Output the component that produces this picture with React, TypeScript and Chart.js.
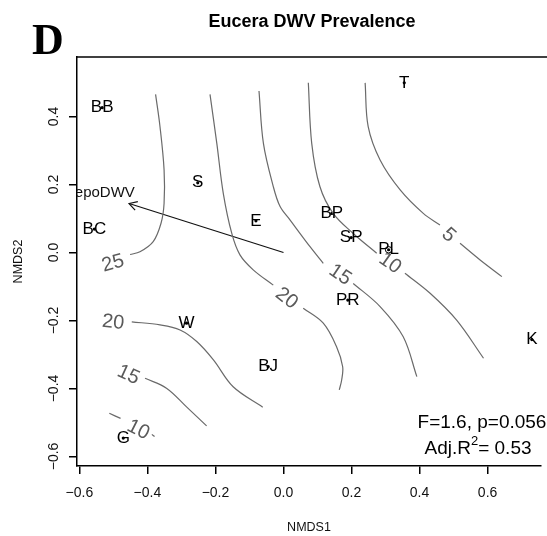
import React, { useEffect, useRef } from "react";
import { Chart, registerables } from "chart.js";
Chart.register(...registerables);

const FONT = "'Liberation Sans', Arial, Helvetica, sans-serif";
const SERIF = "'Liberation Serif', 'Times New Roman', serif";

// Sites (NMDS scores)
const siteNames = ["BB", "S", "BC", "E", "T", "BP", "SP", "PL", "W", "BJ", "G", "PR", "K"];
const siteX = [-0.533, -0.252, -0.556, -0.081, 0.355, 0.142, 0.199, 0.309, -0.285, -0.045, -0.471, 0.189, 0.73];
const siteY = [0.426, 0.205, 0.069, 0.093, 0.499, 0.115, 0.044, 0.008, -0.208, -0.336, -0.546, -0.14, -0.256];

// Axes
const xTickValues = [-0.6, -0.4, -0.2, 0, 0.2, 0.4, 0.6];
const xTickLabels = ["\u22120.6", "\u22120.4", "\u22120.2", "0.0", "0.2", "0.4", "0.6"];
const yTickValues = [-0.6, -0.4, -0.2, 0, 0.2, 0.4];
const yTickLabels = ["\u22120.6", "\u22120.4", "\u22120.2", "0.0", "0.2", "0.4"];
const xRange = [-0.607, 0.757];
const yRange = [-0.628, 0.575];

// Fitted vector
const arrowFrom = [0, 0];
const arrowTo = [-0.454, 0.144];
const vectorLabel = "epoDWV";
const vectorLabelAt = [-0.437, 0.174];

// Contours (ordisurf) - level, segment before label, label position, segment after label
const c25Before = [[-0.376, 0.465], [-0.363, 0.37], [-0.351, 0.243], [-0.351, 0.145], [-0.36, 0.086], [-0.383, 0.032], [-0.422, 0.002], [-0.451, -0.006]];
const c25At = [-0.501, -0.032];
const c25After: number[][] = [];

const c20aBefore = [[-0.216, 0.465], [-0.196, 0.321], [-0.177, 0.174], [-0.152, 0.056], [-0.128, -0.007], [-0.089, -0.051], [-0.03, -0.096]];
const c20aAt = [0.009, -0.135];
const c20aAfter = [[0.058, -0.164], [0.117, -0.208], [0.156, -0.277], [0.174, -0.336], [0.171, -0.375], [0.164, -0.404]];

const c15aBefore = [[-0.072, 0.475], [-0.059, 0.321], [-0.03, 0.194], [-0.01, 0.135], [0.019, 0.096], [0.078, 0.017], [0.117, -0.032]];
const c15aAt = [0.166, -0.066];
const c15aAfter = [[0.205, -0.091], [0.284, -0.159], [0.352, -0.248], [0.392, -0.365]];

const c10aBefore = [[0.073, 0.499], [0.083, 0.321], [0.107, 0.194], [0.146, 0.115], [0.205, 0.056], [0.274, -0.002]];
const c10aAt = [0.313, -0.032];
const c10aAfter = [[0.357, -0.061], [0.431, -0.12], [0.509, -0.199], [0.588, -0.311]];

const c5Before = [[0.24, 0.499], [0.249, 0.37], [0.284, 0.272], [0.343, 0.184], [0.411, 0.115], [0.46, 0.081]];
const c5At = [0.485, 0.051];
const c5After = [[0.519, 0.027], [0.578, -0.022], [0.642, -0.071]];

const c20bBefore: number[][] = [];
const c20bAt = [-0.501, -0.206];
const c20bAfter = [[-0.446, -0.204], [-0.363, -0.213], [-0.304, -0.228], [-0.255, -0.262], [-0.206, -0.316], [-0.148, -0.395], [-0.061, -0.455]];

const c15bBefore: number[][] = [];
const c15bAt = [-0.456, -0.36];
const c15bAfter = [[-0.407, -0.37], [-0.344, -0.399], [-0.285, -0.454], [-0.226, -0.51]];

const c10bBefore = [[-0.512, -0.473], [-0.479, -0.488]];
const c10bAt = [-0.427, -0.522];
const c10bAfter = [[-0.387, -0.535], [-0.379, -0.541]];

const statLine1 = "F=1.6, p=0.056";
const statLine2a = "Adj.R";
const statLine2b = "2";
const statLine2c = "= 0.53";

const chartTitle = "Eucera DWV Prevalence";
const panelLetter = "D";

const contours = [
  { level: "25", before: c25Before, at: c25At, after: c25After },
  { level: "20", before: c20aBefore, at: c20aAt, after: c20aAfter },
  { level: "15", before: c15aBefore, at: c15aAt, after: c15aAfter },
  { level: "10", before: c10aBefore, at: c10aAt, after: c10aAfter },
  { level: "5", before: c5Before, at: c5At, after: c5After },
  { level: "20", before: c20bBefore, at: c20bAt, after: c20bAfter },
  { level: "15", before: c15bBefore, at: c15bAt, after: c15bAfter },
  { level: "10", before: c10bBefore, at: c10bAt, after: c10bAfter },
];

const CONTOUR_COLOR = "#6a6a6a";
const CONTOUR_LABEL = "#5a5a5a";

export default function App() {
  const ref = useRef<HTMLCanvasElement>(null);

  useEffect(() => {
    const canvas = ref.current!;
    const toXY = (arr: number[][]) => arr.map(([x, y]) => ({ x, y }));

    const datasets: any[] = [];
    contours.forEach((c) => {
      [c.before, c.after].forEach((seg) => {
        if (seg.length > 1) {
          datasets.push({
            data: toXY(seg),
            showLine: true,
            borderColor: CONTOUR_COLOR,
            borderWidth: 1.2,
            pointRadius: 0,
            fill: false,
            tension: 0.35,
          });
        }
      });
    });
    datasets.push({
      data: toXY([arrowFrom, arrowTo]),
      showLine: true,
      borderColor: "#111",
      borderWidth: 1.2,
      pointRadius: 0,
      fill: false,
    });
    datasets.push({
      data: siteX.map((x, i) => ({ x, y: siteY[i] })),
      showLine: false,
      pointRadius: 1.6,
      pointBackgroundColor: "#000",
      pointBorderWidth: 0,
    });

    const annot = {
      id: "annot",
      afterDatasetsDraw(chart: any) {
        const { ctx, chartArea: ca, scales } = chart;
        const xs = scales.x, ys = scales.y;
        const px = (v: number) => xs.getPixelForValue(v);
        const py = (v: number) => ys.getPixelForValue(v);
        ctx.save();
        ctx.beginPath();
        ctx.rect(ca.left, ca.top, ca.right - ca.left, ca.bottom - ca.top);
        ctx.clip();

        // contour labels
        ctx.fillStyle = CONTOUR_LABEL;
        ctx.font = `20px ${FONT}`;
        ctx.textAlign = "center";
        ctx.textBaseline = "middle";
        contours.forEach((c) => {
          let p0: number[], p1: number[];
          if (c.before.length && c.after.length) {
            p0 = c.before[c.before.length - 1];
            p1 = c.after[0];
          } else if (c.before.length) {
            p0 = c.before[c.before.length - 2];
            p1 = c.before[c.before.length - 1];
          } else {
            p0 = c.after[0];
            p1 = c.after[1];
          }
          let a = Math.atan2(py(p1[1]) - py(p0[1]), px(p1[0]) - px(p0[0]));
          if (a > Math.PI / 2) a -= Math.PI;
          if (a < -Math.PI / 2) a += Math.PI;
          ctx.save();
          ctx.translate(px(c.at[0]), py(c.at[1]));
          ctx.rotate(a);
          ctx.fillText(c.level, 0, 0);
          ctx.restore();
        });

        // arrow head
        const tx = px(arrowTo[0]), ty = py(arrowTo[1]);
        const fx = px(arrowFrom[0]), fy = py(arrowFrom[1]);
        const ang = Math.atan2(ty - fy, tx - fx);
        const hl = 9;
        ctx.strokeStyle = "#111";
        ctx.lineWidth = 1.2;
        ctx.beginPath();
        ctx.moveTo(tx - hl * Math.cos(ang - Math.PI / 6), ty - hl * Math.sin(ang - Math.PI / 6));
        ctx.lineTo(tx, ty);
        ctx.lineTo(tx - hl * Math.cos(ang + Math.PI / 6), ty - hl * Math.sin(ang + Math.PI / 6));
        ctx.stroke();

        // vector label
        ctx.fillStyle = "#111";
        ctx.font = `15px ${FONT}`;
        ctx.textAlign = "right";
        ctx.fillText(vectorLabel, px(vectorLabelAt[0]), py(vectorLabelAt[1]));

        // site labels
        ctx.font = `17px ${FONT}`;
        ctx.textAlign = "center";
        ctx.fillStyle = "#000";
        siteNames.forEach((n, i) => {
          ctx.fillText(n, px(siteX[i]), py(siteY[i]));
        });
        // PL open circle
        const pli = siteNames.indexOf("PL");
        ctx.strokeStyle = "#000";
        ctx.lineWidth = 1;
        ctx.beginPath();
        ctx.arc(px(siteX[pli]), py(siteY[pli]), 3.2, 0, Math.PI * 2);
        ctx.stroke();
        ctx.restore();

        // statistics text
        ctx.save();
        ctx.fillStyle = "#000";
        ctx.textBaseline = "alphabetic";
        ctx.font = `19px ${FONT}`;
        ctx.textAlign = "center";
        ctx.fillText(statLine1, ca.right - 59, ca.bottom - 38);
        const wA = ctx.measureText(statLine2a).width;
        ctx.font = `13px ${FONT}`;
        const wB = ctx.measureText(statLine2b).width;
        ctx.font = `19px ${FONT}`;
        const wC = ctx.measureText(statLine2c).width;
        const total = wA + wB + wC;
        let sx = ca.right - 63 - total / 2;
        const by = ca.bottom - 12;
        ctx.textAlign = "left";
        ctx.fillText(statLine2a, sx, by);
        sx += wA;
        ctx.font = `13px ${FONT}`;
        ctx.fillText(statLine2b, sx, by - 9);
        sx += wB;
        ctx.font = `19px ${FONT}`;
        ctx.fillText(statLine2c, sx, by);
        ctx.restore();
      },
      afterDraw(chart: any) {
        const { ctx, chartArea: ca } = chart;
        ctx.save();
        ctx.strokeStyle = "#000";
        ctx.lineWidth = 1.5;
        ctx.beginPath();
        ctx.moveTo(ca.left, ca.top);
        ctx.lineTo(chart.width, ca.top);
        ctx.stroke();
        ctx.fillStyle = "#000";
        ctx.textAlign = "center";
        ctx.textBaseline = "alphabetic";
        ctx.font = `bold 18px ${FONT}`;
        ctx.fillText(chartTitle, 312, 27);
        ctx.textAlign = "left";
        ctx.font = `bold 44px ${SERIF}`;
        ctx.fillText(panelLetter, 32, 54);
        ctx.restore();
      },
    };

    const chart = new Chart(canvas, {
      type: "scatter",
      data: { datasets },
      options: {
        animation: false,
        responsive: false,
        devicePixelRatio: 1,
        layout: { padding: { top: 57, right: 6, left: 0, bottom: 0 } },
        plugins: {
          legend: { display: false },
          tooltip: { enabled: false },
          title: { display: false },
        },
        scales: {
          x: {
            type: "linear",
            min: xRange[0],
            max: xRange[1],
            afterBuildTicks: (s: any) => {
              s.ticks = xTickValues.map((v) => ({ value: v }));
            },
            afterFit: (s: any) => {
              s.height = 70;
            },
            grid: { drawOnChartArea: false, drawTicks: true, tickLength: 8, color: "#000", lineWidth: 1.5 },
            border: { display: true, color: "#000", width: 1.5 },
            ticks: {
              autoSkip: false,
              maxRotation: 0,
              minRotation: 0,
              padding: 11,
              color: "#111",
              font: { family: FONT, size: 14 },
              callback: (_v: any, i: number) => xTickLabels[i],
            },
            title: {
              display: true,
              text: "NMDS1",
              color: "#111",
              font: { family: FONT, size: 12.5 },
              padding: { top: 0, bottom: 1 },
            },
          },
          y: {
            type: "linear",
            min: yRange[0],
            max: yRange[1],
            afterBuildTicks: (s: any) => {
              s.ticks = yTickValues.map((v) => ({ value: v }));
            },
            afterFit: (s: any) => {
              s.width = 77;
            },
            grid: { drawOnChartArea: false, drawTicks: true, tickLength: 8, color: "#000", lineWidth: 1.5 },
            border: { display: true, color: "#000", width: 1.5 },
            ticks: {
              autoSkip: false,
              minRotation: 90,
              maxRotation: 90,
              crossAlign: "center",
              padding: 1,
              color: "#111",
              font: { family: FONT, size: 14 },
              callback: (_v: any, i: number) => yTickLabels[i],
            },
            title: {
              display: true,
              text: "NMDS2",
              color: "#111",
              font: { family: FONT, size: 12.5 },
              padding: { top: 11, bottom: 0 },
            },
          },
        },
      } as any,
      plugins: [annot],
    });
    return () => chart.destroy();
  }, []);

  return (
    <div style={{ position: "absolute", left: 0, top: 0, width: 547, height: 536, background: "#fff" }}>
      <canvas ref={ref} width={547} height={536} style={{ display: "block", width: 547, height: 536 }} />
    </div>
  );
}
